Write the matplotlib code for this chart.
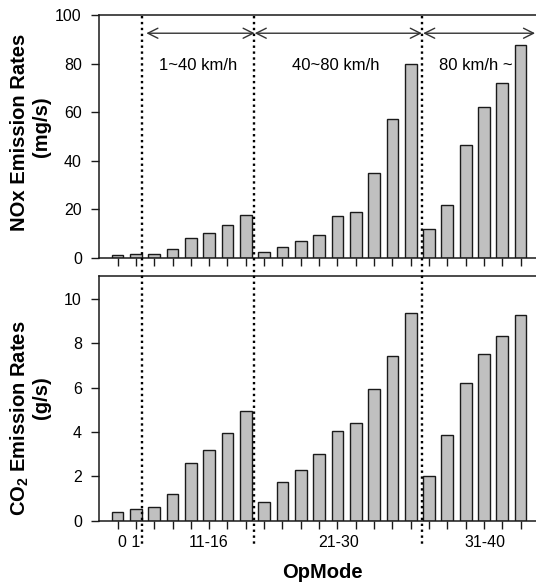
import numpy as np
import matplotlib
matplotlib.use("Agg")
import matplotlib.pyplot as plt
from matplotlib.lines import Line2D
from matplotlib.transforms import blended_transform_factory

plt.rcParams['font.family'] = ['Liberation Sans', 'DejaVu Sans']
plt.rcParams['mathtext.fontset'] = 'custom'
plt.rcParams['mathtext.rm'] = 'Liberation Sans'
plt.rcParams['mathtext.bf'] = 'Liberation Sans:bold'

# ---- data ----
opmodes = [0, 1, 11, 12, 13, 14, 15, 16, 21, 22, 23, 24, 25, 27, 28, 29, 30,
           33, 35, 37, 38, 39, 40]
nox = [1.2, 1.8, 1.8, 3.7, 8.1, 10.3, 13.6, 17.7,
       2.6, 4.4, 6.8, 9.5, 17.1, 19.0, 34.8, 57.4, 79.9,
       11.9, 21.8, 46.3, 62.3, 71.9, 87.5]
co2 = [0.38, 0.52, 0.60, 1.19, 2.62, 3.20, 3.95, 4.95,
       0.86, 1.73, 2.27, 2.99, 4.06, 4.41, 5.92, 7.41, 9.35,
       2.00, 3.86, 6.23, 7.52, 8.32, 9.26]
group_labels = ["0 1", "11-16", "21-30", "31-40"]
group_label_pos = [0.62, 4.99, 12.04, 20.06]
boundaries = [1.33, 7.47, 16.61]
speed_labels = ["1~40 km/h", "40~80 km/h", "80 km/h ~"]
speed_label_pos = [4.4, 11.93, 19.55]
arrow_spans = [(1.57, 7.485), (7.485, 16.61), (16.68, 22.79)]

W, H = 536, 582
fig = plt.figure(figsize=(W / 100, H / 100), dpi=100)

def px_axes(left, top, right, bottom):
    return fig.add_axes([left / W, 1 - bottom / H, (right - left) / W, (bottom - top) / H])

ax1 = px_axes(98.5, 15, 536, 258)
ax2 = px_axes(98.5, 276, 536, 520.7)

x = np.arange(len(opmodes))
xlim = (-1.04, 22.84)
bar_kw = dict(width=0.64, color='#c0c0c0', edgecolor='#1a1a1a', linewidth=1.0, zorder=2)

ax1.bar(x, nox, **bar_kw)
ax2.bar(x, co2, **bar_kw)

ax1.set_ylim(0, 100)
ax1.set_yticks([0, 20, 40, 60, 80, 100])
ax2.set_ylim(0, 11.04)
ax2.set_yticks([0, 2, 4, 6, 8, 10])

for ax in (ax1, ax2):
    ax.set_xlim(*xlim)
    ax.set_xticks(x)
    ax.set_xticklabels([])
    ax.spines['right'].set_visible(False)
    for s in ('left', 'bottom', 'top'):
        ax.spines[s].set_linewidth(1.1)
        ax.spines[s].set_color('#1a1a1a')
    ax.tick_params(axis='both', direction='out', length=6, width=1.0,
                   color='#1a1a1a', labelsize=11.5, pad=6)
    ax.tick_params(axis='x', pad=4)

# group labels under bottom axis
tb = blended_transform_factory(ax2.transData, fig.transFigure)
for lab, p in zip(group_labels, group_label_pos):
    fig.text(p, 1 - 542.7 / H, lab, transform=tb, ha='center', va='center', fontsize=11.5)

# dotted separators spanning both panels
for b in boundaries:
    ln = Line2D([b, b], [1 - 16 / H, 1 - 546 / H], transform=tb, color='black',
                linewidth=1.7, linestyle=(0, (1, 1.5)), zorder=5)
    fig.add_artist(ln)

# arrows and speed labels
for (a, c) in arrow_spans:
    ax1.annotate('', xy=(c, 92.5), xytext=(a, 92.5),
                 arrowprops=dict(arrowstyle='<->', color='#333333', lw=1.0,
                                 mutation_scale=18, shrinkA=0, shrinkB=0),
                 annotation_clip=False)
for lab, p in zip(speed_labels, speed_label_pos):
    ax1.text(p, 79.3, lab, ha='center', va='center', fontsize=12)

# y labels
def ftext(px, py, s, **kw):
    fig.text(px / W, 1 - py / H, s, rotation=90, ha='center', va='center',
             fontsize=14.5, fontweight='bold', **kw)

ftext(20, 132, "NOx Emission Rates")
ftext(42, 127, "(mg/s)")
ftext(20, 418, r"CO$_\mathbf{2}$ Emission Rates")
ftext(42, 398, "(g/s)")

fig.text(322 / W, 1 - 572 / H, "OpMode", ha='center', va='center',
         fontsize=14.5, fontweight='bold')

fig.savefig("out.png", dpi=100)
